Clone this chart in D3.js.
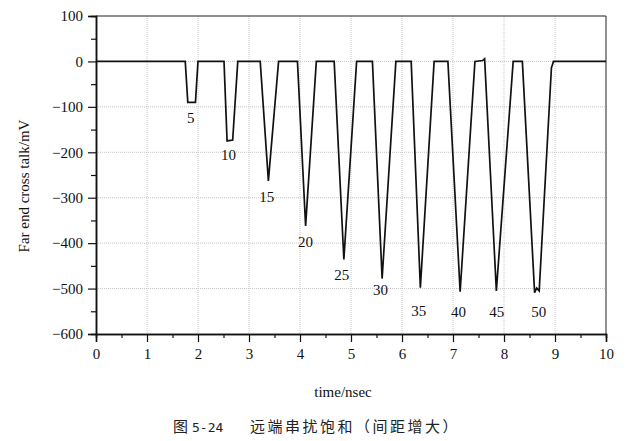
<!DOCTYPE html>
<html>
<head>
<meta charset="utf-8">
<script src="https://cdn.jsdelivr.net/npm/d3@7"></script>
<style>
  body { margin: 0; background: #fff; }
  svg text { font-family: "Liberation Serif", "Times New Roman", "DejaVu Serif", serif; }
  svg text.cap { font-family: "Noto Sans CJK SC", sans-serif; }
</style>
</head>
<body>
<div id="chart"></div>
<script>
// far end crosstalk waveform
var timeNs = [0, 1.75, 1.80, 1.95, 2.00, 2.51, 2.57, 2.68, 2.78, 3.22, 3.38, 3.58,
  3.95, 4.11, 4.32, 4.67, 4.86, 5.11, 5.42, 5.61, 5.88, 6.18, 6.36, 6.63,
  6.90, 7.14, 7.43, 7.58, 7.62, 7.85, 8.18, 8.36, 8.60, 8.64, 8.69, 8.93, 8.97, 10];
var crossMv = [0, 0, -90, -90, 0, 0, -175, -173, 0, 0, -263, 0,
  0, -362, 0, 0, -436, 0, 0, -478, 0, 0, -498, 0,
  0, -507, 0, 2, 6, -505, 0, 0, -509, -499, -505, -14, 0, 0];

var spacingLabels = ["5", "10", "15", "20", "25", "30", "35", "40", "45", "50"];
var labelT = [1.86, 2.60, 3.35, 4.11, 4.82, 5.58, 6.33, 7.11, 7.86, 8.68];
var labelV = [-125, -205, -297, -398, -469, -502, -548, -550, -552, -550];

var xTicks = [0, 1, 2, 3, 4, 5, 6, 7, 8, 9, 10];
var yTicks = [100, 0, -100, -200, -300, -400, -500, -600];

var width = 637, height = 441;
var margin = {top: 16, right: 31, bottom: 107, left: 96};
var w = width - margin.left - margin.right,
    h = height - margin.top - margin.bottom;

var svg = d3.select("#chart").append("svg")
  .attr("width", width)
  .attr("height", height);

var g = svg.append("g")
  .attr("transform", "translate(" + margin.left + "," + margin.top + ")");

var xScale = d3.scaleLinear().domain([0, 10]).range([0, w]);
var yScale = d3.scaleLinear().domain([-600, 100]).range([h, 0]);

// dotted grid
g.selectAll(".vgrid")
  .data(xTicks.slice(1, -1))
  .enter().append("line")
  .attr("x1", function(d) { return xScale(d); })
  .attr("x2", function(d) { return xScale(d); })
  .attr("y1", 0).attr("y2", h)
  .attr("stroke", "#b8b8b8").attr("stroke-width", 0.8)
  .attr("stroke-dasharray", "1,1");

g.selectAll(".hgrid")
  .data(yTicks.slice(1, -1))
  .enter().append("line")
  .attr("y1", function(d) { return yScale(d); })
  .attr("y2", function(d) { return yScale(d); })
  .attr("x1", 0).attr("x2", w)
  .attr("stroke", "#b8b8b8").attr("stroke-width", 0.8)
  .attr("stroke-dasharray", "1,1");

// frame top/right
g.append("path")
  .attr("d", "M0,0H" + w + "V" + h)
  .attr("fill", "none").attr("stroke", "#222").attr("stroke-width", 1);

// axes
var xAxis = d3.axisBottom(xScale).tickValues(xTicks).tickSize(8).tickPadding(6)
  .tickFormat(d3.format("d"));
var xMinor = d3.axisBottom(xScale).tickValues(d3.range(0.5, 10, 1)).tickSize(4).tickFormat("");
var yAxis = d3.axisLeft(yScale).tickValues(yTicks).tickSize(8).tickPadding(5)
  .tickFormat(function(d) { return d < 0 ? "\u2212" + (-d) : d; });
var yMinor = d3.axisLeft(yScale).tickValues(d3.range(-550, 100, 100)).tickSize(5).tickFormat("");

function styleAxis(sel) {
  sel.attr("font-family", null);
  sel.select(".domain").attr("stroke", "#111").attr("stroke-width", 1.5);
  sel.selectAll(".tick line").attr("stroke", "#111").attr("stroke-width", 1.2);
  sel.selectAll(".tick text")
    .attr("font-size", 15).attr("fill", "#111");
}

g.append("g").attr("transform", "translate(0," + h + ")").call(xMinor).call(styleAxis);
g.append("g").attr("transform", "translate(0," + h + ")").call(xAxis).call(styleAxis);
g.append("g").call(yMinor).call(styleAxis);
g.append("g").call(yAxis).call(styleAxis);

// waveform
var pts = timeNs.map(function(t, i) { return [t, crossMv[i]]; });
var line = d3.line()
  .x(function(d) { return xScale(d[0]); })
  .y(function(d) { return yScale(d[1]); });

g.append("path")
  .datum(pts)
  .attr("d", line)
  .attr("fill", "none")
  .attr("stroke", "#111")
  .attr("stroke-width", 1.7)
  .attr("stroke-linejoin", "miter");

// spacing labels
g.selectAll(".lbl")
  .data(spacingLabels)
  .enter().append("text")
  .attr("x", function(d, i) { return xScale(labelT[i]); })
  .attr("y", function(d, i) { return yScale(labelV[i]); })
  .attr("dy", "0.35em")
  .attr("text-anchor", "middle")
  .attr("font-size", 15)
  .attr("fill", "#111")
  .text(function(d) { return d; });

// axis titles
svg.append("text")
  .attr("x", margin.left + w / 2 - 8)
  .attr("y", 397)
  .attr("text-anchor", "middle")
  .attr("font-size", 15)
  .attr("fill", "#111")
  .text("time/nsec");

svg.append("text")
  .attr("transform", "translate(29,186) rotate(-90)")
  .attr("text-anchor", "middle")
  .attr("font-size", 15)
  .attr("fill", "#111")
  .text("Far end cross talk/mV");

// caption
var cap = svg.append("text")
  .attr("class", "cap")
  .attr("y", 432)
  .attr("font-size", 15)
  .attr("fill", "#222");
cap.append("tspan").attr("x", 173).text("图");
cap.append("tspan").attr("x", 192).style("font-family", "DejaVu Sans Mono")
  .attr("font-size", 13).text("5-24");
cap.append("tspan").attr("x", 250).attr("letter-spacing", 2.5).text("远端串扰饱和（间距增大）");
</script>
</body>
</html>
